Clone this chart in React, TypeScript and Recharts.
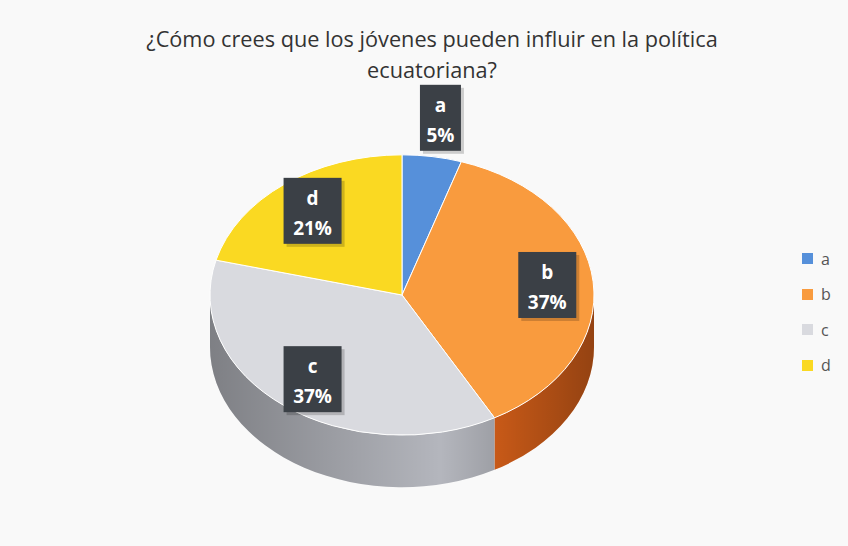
import React from 'react';
import { PieChart, Pie, Cell, Legend } from 'recharts';

// answers and their shares (%)
const categories = ['a', 'b', 'c', 'd'];
const shares = [5, 37, 37, 21];
const topColors = ['#5690DA', '#F99B3E', '#D9DADF', '#FAD922'];
const sideColors = ['#3F6FB0', '#E4661B', '#B4B6BD', '#D0B010'];

const title = ['¿Cómo crees que los jóvenes pueden influir en la política', 'ecuatoriana?'];

const data = categories.map((name, i) => ({ name, value: shares[i] }));

// fake 3D: squash the pie vertically and give it a rim
const TILT = 0.73;
const DEPTH = 52;
const RAD = Math.PI / 180;

const pt = (cx: number, cy: number, r: number, deg: number): [number, number] => [
  cx + r * Math.cos(-deg * RAD),
  cy + r * TILT * Math.sin(-deg * RAD),
];

const topPath = (cx: number, cy: number, r: number, s: number, e: number) => {
  const [x1, y1] = pt(cx, cy, r, s);
  const [x2, y2] = pt(cx, cy, r, e);
  const large = Math.abs(s - e) > 180 ? 1 : 0;
  const sweep = s > e ? 1 : 0;
  return `M${cx},${cy} L${x1},${y1} A${r},${r * TILT} 0 ${large} ${sweep} ${x2},${y2} Z`;
};

// rim pieces for the part of the slice that faces the viewer
const sidePaths = (cx: number, cy: number, r: number, s: number, e: number) => {
  const hiA = Math.max(s, e);
  const loA = Math.min(s, e);
  const out: string[] = [];
  for (let k = -2; k <= 1; k++) {
    const lo = Math.max(loA, -180 + 360 * k);
    const hi = Math.min(hiA, 360 * k);
    if (hi - lo < 0.01) continue;
    const [x1, y1] = pt(cx, cy, r, hi);
    const [x2, y2] = pt(cx, cy, r, lo);
    const large = hi - lo > 180 ? 1 : 0;
    out.push(
      `M${x1},${y1} A${r},${r * TILT} 0 ${large} 1 ${x2},${y2} L${x2},${y2 + DEPTH} A${r},${r * TILT} 0 ${large} 0 ${x1},${y1 + DEPTH} Z`
    );
  }
  return out;
};

const Slice3D = (props: any) => {
  const { cx, cy, outerRadius, startAngle, endAngle, fill, index } = props;
  const i = index ?? categories.indexOf(props.name);
  const gid = `rimShade${i}`;
  const sides = sidePaths(cx, cy, outerRadius, startAngle, endAngle);
  return (
    <g>
      <defs>
        <linearGradient id={gid} gradientUnits="userSpaceOnUse" x1={cx - outerRadius} y1={0} x2={cx + outerRadius} y2={0}>
          <stop offset="0%" stopColor="#000" stopOpacity={0.3} />
          <stop offset="60%" stopColor="#000" stopOpacity={0} />
          <stop offset="100%" stopColor="#000" stopOpacity={0.35} />
        </linearGradient>
      </defs>
      {sides.map((d, k) => (
        <g key={k}>
          <path d={d} fill={sideColors[i] ?? fill} />
          <path d={d} fill={`url(#${gid})`} />
        </g>
      ))}
      <path d={topPath(cx, cy, outerRadius, startAngle, endAngle)} fill={fill} stroke="#fff" strokeWidth={1} />
    </g>
  );
};

const renderLabel = (props: any) => {
  const { cx, cy, midAngle, outerRadius, percent, name } = props;
  const f = percent < 0.1 ? 1.28 : 0.76;
  const [x, y] = pt(cx, cy, outerRadius * f, midAngle);
  const pctText = `${Math.round(percent * 100)}%`;
  const w = 7 + 17 * pctText.length;
  const h = 66;
  const font = { fontFamily: 'Open Sans, sans-serif', fontWeight: 700, fontSize: 19 };
  return (
    <g>
      <rect x={x - w / 2 + 3} y={y - h / 2 + 3} width={w} height={h} fill="#000" opacity={0.18} />
      <rect x={x - w / 2} y={y - h / 2} width={w} height={h} fill="#3b4046" />
      <text x={x} y={y - 6} textAnchor="middle" fill="#fff" {...font}>{name}</text>
      <text x={x} y={y + 24} textAnchor="middle" fill="#fff" {...font}>{pctText}</text>
    </g>
  );
};

const LegendBox = (props: any) => {
  const { payload } = props;
  return (
    <div>
      {(payload || []).map((p: any, i: number) => (
        <div key={i} style={{ display: 'flex', alignItems: 'center', height: 35.5 }}>
          <span style={{ width: 11, height: 11, background: p.color, display: 'inline-block', marginRight: 8 }} />
          <span style={{ fontFamily: 'Open Sans, sans-serif', fontSize: 16, color: '#555' }}>{p.value}</span>
        </div>
      ))}
    </div>
  );
};

const App: React.FC = () => {
  return (
    <div style={{ position: 'absolute', left: 0, top: 0, width: 848, height: 546, background: '#f9f9f9' }}>
      <div
        style={{
          position: 'absolute',
          top: 23,
          left: 16,
          width: 832,
          textAlign: 'center',
          fontFamily: 'Open Sans, sans-serif',
          fontSize: 21.7,
          lineHeight: '31px',
          color: '#333',
        }}
      >
        {title.map((t, i) => (
          <div key={i}>{t}</div>
        ))}
      </div>
      <PieChart width={848} height={546} margin={{ top: 0, right: 0, bottom: 0, left: 0 }}>
        <Pie
          data={data}
          dataKey="value"
          nameKey="name"
          cx={402}
          cy={295}
          outerRadius={192}
          startAngle={90}
          endAngle={-270}
          shape={Slice3D}
          label={renderLabel}
          labelLine={false}
          isAnimationActive={false}
        >
          {data.map((entry, i) => (
            <Cell key={entry.name} fill={topColors[i]} />
          ))}
        </Pie>
        <Legend
          layout="vertical"
          content={<LegendBox />}
          wrapperStyle={{ left: 802, top: 241, width: 40 }}
        />
      </PieChart>
    </div>
  );
};

export default App;
